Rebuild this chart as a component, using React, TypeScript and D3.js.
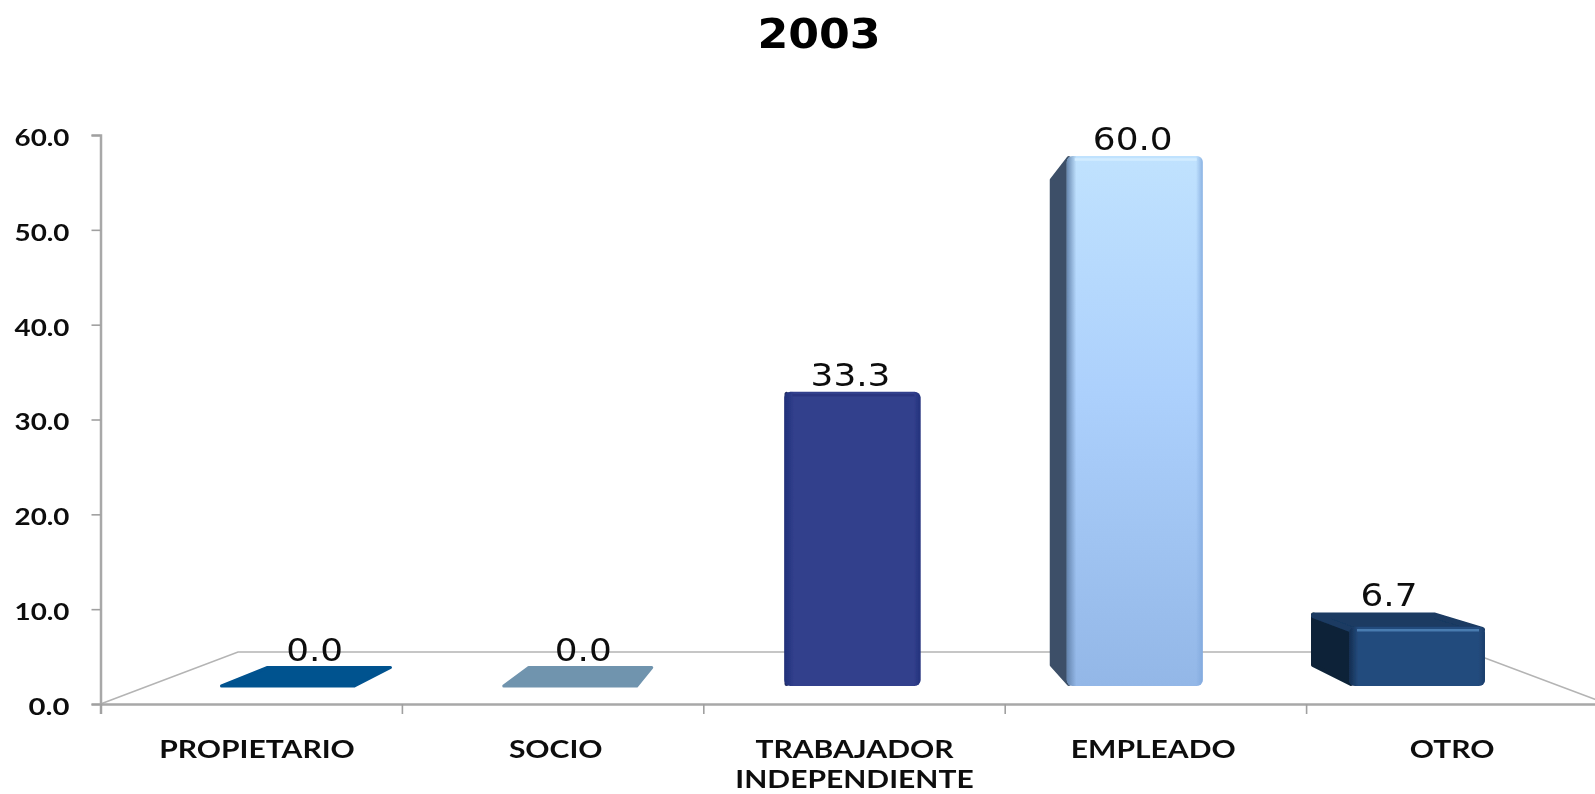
import { useEffect, useRef } from 'react';
import * as d3 from 'd3';

const title = '2003';
const categories = ['PROPIETARIO', 'SOCIO', 'TRABAJADOR INDEPENDIENTE', 'EMPLEADO', 'OTRO'];
const values = [0.0, 0.0, 33.3, 60.0, 6.7];
const yTicks = [0, 10, 20, 30, 40, 50, 60];

const frontColors = ['#04528f', '#7094ae', '#323f8c', '#aacdfb', '#234b7d'];
const topColors = ['#04528f', '#7094ae', '#2a3577', '#8fb4e0', '#1a3a62'];
const sideColors = ['#033f6e', '#567a94', '#1f2a60', '#3c5068', '#0e2237'];
const bevelLeft = ['#04528f', '#7094ae', '#1f2f78', '#5d7da6', '#122b4c'];
const bevelRight = ['#04528f', '#7094ae', '#1f2f78', '#7fa7dc', '#1b3b66'];
const topEdges = ['#04528f', '#7094ae', '#2b3680', '#d3ecff', '#4a7bb0'];

const WIDTH = 1595;
const HEIGHT = 794;

const App = () => {
  const ref = useRef<SVGSVGElement | null>(null);

  useEffect(() => {
    document.body.style.margin = '0';
    const svg = d3.select(ref.current);
    svg.selectAll('*').remove();

    const defs = svg.append('defs');
    defs
      .append('filter')
      .attr('id', 'soft')
      .attr('x', '-5%')
      .attr('y', '-5%')
      .attr('width', '110%')
      .attr('height', '110%')
      .append('feGaussianBlur')
      .attr('stdDeviation', 0.7);

    // the walls of the chart sit on one scale, the bars on a nearer and a farther one
    const yAxisScale = d3.scaleLinear().domain([0, 60]).range([704, 135]);
    const frontY = d3.scaleLinear().domain([0, 60]).range([686, 156]);
    const backY = d3.scaleLinear().domain([0, 60]).range([667, 178]);

    const frontX = d3.scalePoint<string>().domain(categories).range([220, 1349]);
    const backX = d3.scalePoint<string>().domain(categories).range([266, 1311]);
    const frontW = 136;
    const backW = 126;

    const tickX = d3.scaleLinear().domain([0, 5]).range([100.5, 1607.5]);
    const labelX = d3.scalePoint<string>().domain(categories).range([257, 1452]);

    const root = svg.append('g').attr('filter', 'url(#soft)');

    // floor
    const floor = d3.line();
    root
      .append('path')
      .attr('d', floor([[100.5, 704], [238, 652], [1469, 652], [1607.5, 704]]))
      .attr('fill', 'none')
      .attr('stroke', '#b4b4b4')
      .attr('stroke-width', 1.6);

    // axes
    const yAxis = root
      .append('g')
      .attr('transform', 'translate(100.5,0)')
      .call(d3.axisLeft(yAxisScale).tickValues(yTicks).tickSize(9).tickPadding(22).tickFormat((d) => d3.format('.1f')(+d)));
    const xAxis = root
      .append('g')
      .attr('transform', 'translate(0,704)')
      .call(d3.axisBottom(tickX).tickValues([0, 1, 2, 3, 4, 5]).tickSize(10).tickFormat(() => ''));

    [yAxis, xAxis].forEach((axis) => {
      axis.selectAll('path').attr('stroke', '#a8a8a8').attr('stroke-width', 2.5);
      axis.selectAll('line').attr('stroke', '#a0a0a0').attr('stroke-width', 1.6);
    });

    yAxis
      .selectAll('text')
      .attr('font-family', 'Lato')
      .attr('font-weight', 700)
      .attr('font-size', 23)
      .attr('fill', '#111')
      .attr('text-anchor', 'end')
      .attr('dy', '0.45em')
      .attr('textLength', function () {
        return d3.select(this).text().length === 4 ? 55 : 41;
      })
      .attr('lengthAdjust', 'spacingAndGlyphs');

    // bars
    const line = d3.line();
    categories.forEach((c, i) => {
      const v = values[i];
      const fx = frontX(c) as number;
      const bx = backX(c) as number;
      const fTop = frontY(v);
      const bTop = backY(v);
      const fBot = frontY(0);
      const bBot = backY(0);
      const topVisible = bTop <= fTop;

      const bar = root.append('g');

      if (v > 0) {
        const r = 2;
        bar
          .append('path')
          .attr('d', line([[bx + r, bTop + r], [fx + r, fTop + r], [fx + r, fBot - r], [bx + r, bBot - r]]) + 'Z')
          .attr('fill', sideColors[i])
          .attr('stroke', sideColors[i])
          .attr('stroke-width', r * 2)
          .attr('stroke-linejoin', 'round');
      }

      // the top face only shows where the far edge lies above the near one
      if (topVisible) {
        const r = v > 0 ? 3 : 1.5;
        bar
          .append('path')
          .attr('d', line([
            [bx + r, bTop + r - (v > 0 ? 0 : 1)],
            [bx + backW - r, bTop + r - (v > 0 ? 0 : 1)],
            [fx + frontW - r, fTop + (v > 0 ? r : 0)],
            [fx + r, fTop + (v > 0 ? r : 0)],
          ]) + 'Z')
          .attr('fill', topColors[i])
          .attr('stroke', topColors[i])
          .attr('stroke-width', r * 2)
          .attr('stroke-linejoin', 'round');
      }

      if (v > 0) {
        const vGrad = defs
          .append('linearGradient')
          .attr('id', `front-${i}`)
          .attr('x1', 0)
          .attr('y1', 0)
          .attr('x2', 0)
          .attr('y2', 1);
        const stops: [number, string][] =
          i === 3
            ? [[0, '#c0e2fe'], [0.45, '#acd0fc'], [1, '#93b7e7']]
            : [[0, frontColors[i]], [1, frontColors[i]]];
        stops.forEach(([o, col]) => {
          vGrad.append('stop').attr('offset', o).attr('stop-color', col);
        });

        bar
          .append('rect')
          .attr('x', fx)
          .attr('y', fTop)
          .attr('width', frontW)
          .attr('height', fBot - fTop)
          .attr('rx', 6)
          .attr('fill', `url(#front-${i})`);

        // bevel along the edges of the face
        const hGrad = defs
          .append('linearGradient')
          .attr('id', `bevel-${i}`)
          .attr('x1', 0)
          .attr('y1', 0)
          .attr('x2', 1)
          .attr('y2', 0);
        hGrad.append('stop').attr('offset', 0).attr('stop-color', bevelLeft[i]).attr('stop-opacity', 0.9);
        hGrad.append('stop').attr('offset', 0.07).attr('stop-color', bevelLeft[i]).attr('stop-opacity', 0);
        hGrad.append('stop').attr('offset', 0.95).attr('stop-color', bevelRight[i]).attr('stop-opacity', 0);
        hGrad.append('stop').attr('offset', 1).attr('stop-color', bevelRight[i]).attr('stop-opacity', 0.8);
        bar
          .append('rect')
          .attr('x', fx)
          .attr('y', fTop)
          .attr('width', frontW)
          .attr('height', fBot - fTop)
          .attr('rx', 6)
          .attr('fill', `url(#bevel-${i})`);

        bar
          .append('line')
          .attr('x1', fx + 8)
          .attr('x2', fx + frontW - 6)
          .attr('y1', fTop + 3.5)
          .attr('y2', fTop + 3.5)
          .attr('stroke', topEdges[i])
          .attr('stroke-width', 2.5);
      }

      // value label: over the front face on tall bars, over the top face on flat ones
      const frontMid = fx + frontW / 2;
      const backMid = bx + backW / 2;
      const valueX = topVisible ? frontMid + 0.65 * (backMid - frontMid) : frontMid - 2;
      root
        .append('text')
        .attr('transform', `translate(${valueX},${Math.min(fTop, bTop) - 6}) scale(1.12,1)`)
        .attr('text-anchor', 'middle')
        .attr('font-family', 'DejaVu Sans')
        .attr('font-size', 32)
        .attr('fill', '#111')
        .text(d3.format('.1f')(v));
    });

    // category labels
    categories.forEach((c) => {
      const cx = labelX(c) as number;
      const words = c === 'TRABAJADOR INDEPENDIENTE' ? c.split(' ') : [c];
      const text = root
        .append('g')
        .attr('transform', `translate(${cx},0) scale(1.2,1)`)
        .append('text')
        .attr('text-anchor', 'middle')
        .attr('font-family', 'Lato')
        .attr('font-weight', 700)
        .attr('font-size', 25)
        .attr('fill', '#111');
      words.forEach((w, k) => {
        text
          .append('tspan')
          .attr('x', 0)
          .attr('y', 758 + k * 30)
          .text(w);
      });
    });

    // title
    root
      .append('text')
      .attr('transform', 'translate(819,48) scale(1.08,1)')
      .attr('text-anchor', 'middle')
      .attr('font-family', 'DejaVu Sans')
      .attr('font-weight', 700)
      .attr('font-size', 41)
      .attr('fill', '#000')
      .text(title);
  }, []);

  return <svg ref={ref} width={WIDTH} height={HEIGHT} style={{ display: 'block', background: '#fff' }} />;
};

export default App;
